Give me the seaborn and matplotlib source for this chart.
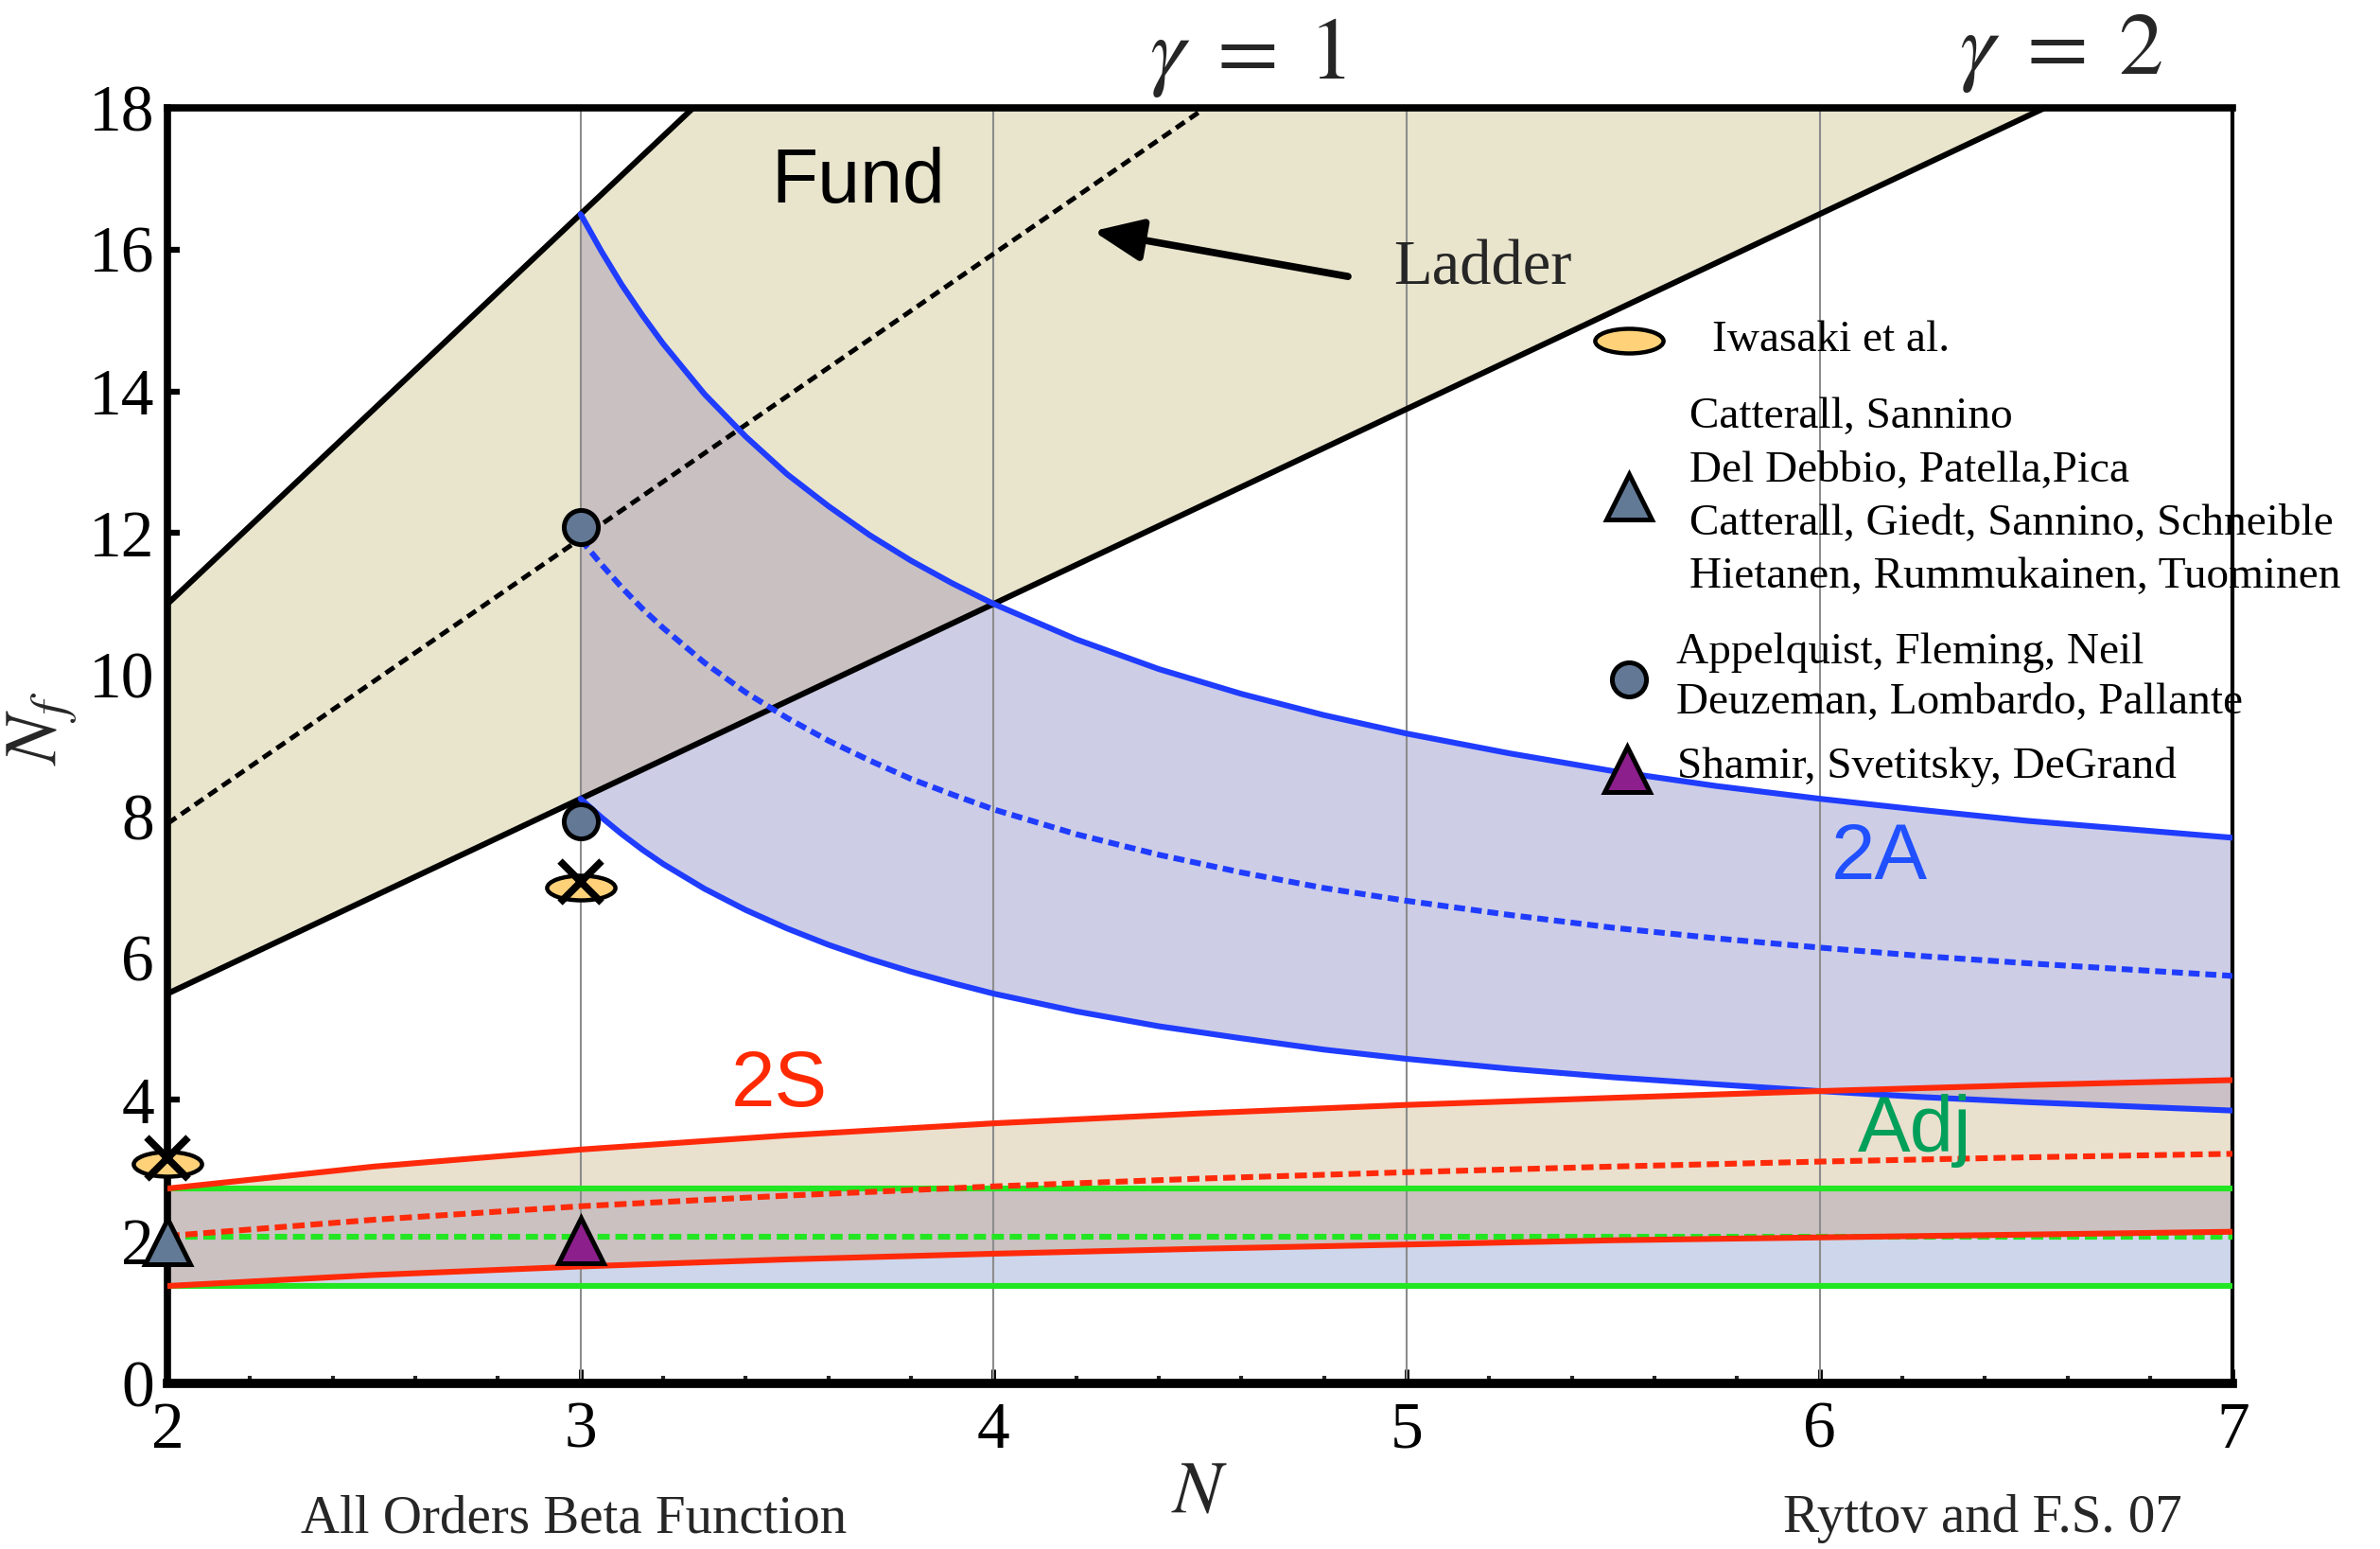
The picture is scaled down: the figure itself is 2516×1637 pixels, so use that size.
import numpy as np
import matplotlib
matplotlib.use("Agg")
import matplotlib.pyplot as plt
from matplotlib.path import Path
from matplotlib.transforms import Affine2D
from matplotlib.ticker import MultipleLocator
import seaborn as sns

# ---------------------------------------------------------------- data
# Fundamental representation: asymptotic freedom, ladder and gamma = 2 bounds
n_fund = [2, 3, 4, 5, 6, 7]
fund_upper = [11.0, 16.5, 22.0, 27.5, 33.0, 38.5]
fund_ladder = [7.9, 11.92, 15.94, 19.96, 23.97, 27.98]
fund_lower = [5.5, 8.25, 11.0, 13.75, 16.5, 19.25]

# Two-index antisymmetric (2A)
n_2a = [3.0, 3.05, 3.1, 3.15, 3.2, 3.3, 3.4, 3.5, 3.6, 3.7, 3.8, 3.9, 4.0,
        4.2, 4.4, 4.6, 4.8, 5.0, 5.25, 5.5, 5.75, 6.0, 6.25, 6.5, 6.75, 7.0]
a2_upper = [16.5, 15.98, 15.5, 15.07, 14.67, 13.96, 13.36, 12.83, 12.38,
            11.97, 11.61, 11.29, 11.0, 10.5, 10.08, 9.73, 9.43, 9.17, 8.89,
            8.64, 8.43, 8.25, 8.09, 7.94, 7.82, 7.7]
a2_ladder = [11.91, 11.56, 11.23, 10.93, 10.66, 10.17, 9.75, 9.39, 9.07,
             8.79, 8.53, 8.31, 8.10, 7.75, 7.46, 7.21, 6.99, 6.81, 6.61,
             6.43, 6.28, 6.15, 6.03, 5.93, 5.84, 5.75]
a2_lower = [8.25, 7.99, 7.75, 7.53, 7.33, 6.98, 6.68, 6.42, 6.19, 5.99,
            5.81, 5.65, 5.5, 5.25, 5.04, 4.87, 4.71, 4.58, 4.44, 4.32,
            4.22, 4.125, 4.04, 3.97, 3.91, 3.85]

# Two-index symmetric (2S)
n_2s = [2.0, 2.5, 3.0, 3.5, 4.0, 4.5, 5.0, 5.5, 6.0, 6.5, 7.0]
s2_upper = [2.75, 3.06, 3.30, 3.50, 3.67, 3.81, 3.93, 4.03, 4.125, 4.21, 4.28]
s2_ladder = [2.08, 2.31, 2.50, 2.65, 2.78, 2.89, 2.98, 3.06, 3.13, 3.19, 3.24]
s2_lower = [1.375, 1.53, 1.65, 1.75, 1.83, 1.90, 1.96, 2.02, 2.06, 2.10, 2.14]

# Adjoint
n_adj = [2.0, 7.0]
adj_upper = [2.75, 2.75]
adj_ladder = [2.075, 2.075]
adj_lower = [1.375, 1.375]

# Lattice results
iwasaki_n = [2, 3]
iwasaki_nf = [3.1, 7.0]
excluded_n = [2, 3]
excluded_nf = [3.18, 7.08]
catterall_n = [2]
catterall_nf = [2.0]
appelquist_n = [3, 3]
appelquist_nf = [12.08, 7.93]
shamir_n = [3]
shamir_nf = [2.02]

legend_lines = [
    (5.74, 14.72, "Iwasaki et al."),
    (5.685, 13.63, "Catterall, Sannino"),
    (5.685, 12.88, "Del Debbio, Patella,Pica"),
    (5.685, 12.13, "Catterall, Giedt, Sannino, Schneible"),
    (5.685, 11.38, "Hietanen, Rummukainen, Tuominen"),
    (5.652, 10.31, "Appelquist, Fleming, Neil"),
    (5.652, 9.60, "Deuzeman, Lombardo, Pallante"),
    (5.655, 8.70, "Shamir, Svetitsky, DeGrand"),
]

# ---------------------------------------------------------------- style
sns.set_theme(style="white")
plt.rcParams["font.family"] = ["Liberation Serif", "DejaVu Serif"]
plt.rcParams["mathtext.fontset"] = "stix"
SANS = ["Liberation Sans Narrow", "Liberation Sans", "DejaVu Sans"]

BLUE = "#1f3cff"
RED = "#ff2a0a"
GREEN = "#22e622"
C_FUND = "#e9e5cd"
C_2A = "#cdcde6"
C_FUND_2A = "#c9c0c2"
C_ADJ = "#cdd6ea"
C_2S = "#eae0ce"
C_2S_ADJ = "#cbc1c1"
C_2S_2A = "#cbc0c6"

fig = plt.figure(figsize=(25.16, 16.37), dpi=100)
ax = fig.add_axes([0.0704, 0.1069, 0.8677, 0.8235])
ax.set_xlim(2, 7)
ax.set_ylim(0, 18)

# ---------------------------------------------------------------- bands
fund_lo_on_2a = np.interp(n_2a, n_fund, fund_lower)
s2_up_on_2a = np.interp(n_2a, n_2s, s2_upper)
adj_up_on_2s = np.interp(n_2s, n_adj, adj_upper)

ax.fill_between(n_fund, fund_lower, fund_upper, color=C_FUND, lw=0, zorder=1)
ax.fill_between(n_2a, a2_lower, a2_upper, color=C_2A, lw=0, zorder=1.05)
ax.fill_between(n_2a, fund_lo_on_2a, a2_upper,
                where=np.array(a2_upper) >= fund_lo_on_2a, interpolate=True,
                color=C_FUND_2A, lw=0, zorder=1.1)
ax.fill_between(n_adj, adj_lower, adj_upper, color=C_ADJ, lw=0, zorder=1)
ax.fill_between(n_2s, s2_lower, s2_upper, color=C_2S, lw=0, zorder=1.05)
ax.fill_between(n_2s, s2_lower, adj_up_on_2s, color=C_2S_ADJ, lw=0, zorder=1.1)
ax.fill_between(n_2a, a2_lower, s2_up_on_2a,
                where=s2_up_on_2a >= np.array(a2_lower), interpolate=True,
                color=C_2S_2A, lw=0, zorder=1.1)

for xv in [3, 4, 5, 6]:
    ax.axvline(xv, color="#8c8c8c", lw=1.5, zorder=1.5)

# ---------------------------------------------------------------- curves
LW = 4.4
solid = dict(lw=LW, zorder=3)
sns.lineplot(x=n_fund, y=fund_upper, color="black", ax=ax, **solid)
sns.lineplot(x=n_fund, y=fund_lower, color="black", ax=ax, **solid)
sns.lineplot(x=n_fund, y=fund_ladder, color="black", ax=ax, lw=3.6,
             linestyle=(0, (2.2, 1.3)), zorder=3)

sns.lineplot(x=n_2a, y=a2_upper, color=BLUE, ax=ax, **solid)
sns.lineplot(x=n_2a, y=a2_lower, color=BLUE, ax=ax, **solid)
sns.lineplot(x=n_2a, y=a2_ladder, color=BLUE, ax=ax, lw=LW,
             linestyle=(0, (1.9, 1.0)), zorder=3)

sns.lineplot(x=n_adj, y=adj_upper, color=GREEN, ax=ax, **solid)
sns.lineplot(x=n_adj, y=adj_lower, color=GREEN, ax=ax, **solid)
sns.lineplot(x=n_adj, y=adj_ladder, color=GREEN, ax=ax, lw=LW,
             linestyle=(0, (2.1, 1.0)), zorder=3)

sns.lineplot(x=n_2s, y=s2_upper, color=RED, ax=ax, **solid)
sns.lineplot(x=n_2s, y=s2_lower, color=RED, ax=ax, **solid)
sns.lineplot(x=n_2s, y=s2_ladder, color=RED, ax=ax, lw=LW,
             linestyle=(0, (2.1, 1.0)), zorder=3)

# ---------------------------------------------------------------- markers
ellipse = Path.unit_circle().transformed(Affine2D().scale(1.0, 0.36))
mk_ellipse = dict(marker=ellipse, ms=52, mfc="#ffd27a", mec="black", mew=3.2,
                  ls="none", clip_on=False, zorder=6)
mk_x = dict(marker="x", ms=32, mec="black", mew=5.5, ls="none",
            clip_on=False, zorder=7)
mk_tri = dict(marker="^", ms=34, mfc="#627a96", mec="black", mew=3.6,
              ls="none", clip_on=False, zorder=6)
mk_circ = dict(marker="o", ms=26, mfc="#627894", mec="black", mew=3.6,
               ls="none", clip_on=False, zorder=6)
mk_purple = dict(marker="^", ms=34, mfc="#8c1f8c", mec="black", mew=3.6,
                 ls="none", clip_on=False, zorder=6)

ax.plot(iwasaki_n, iwasaki_nf, **mk_ellipse)
ax.plot(excluded_n, excluded_nf, **mk_x)
ax.plot(catterall_n, catterall_nf, **mk_tri)
ax.plot(appelquist_n, appelquist_nf, **mk_circ)
ax.plot(shamir_n, shamir_nf, **mk_purple)

# legend symbols
ax.plot([5.538], [14.72], **mk_ellipse)
ax.plot([5.538], [12.51], **mk_tri)
ax.plot([5.538], [9.94], **mk_circ)
ax.plot([5.533], [8.66], **mk_purple)

for lx, ly, txt in legend_lines:
    ax.text(lx, ly, txt, fontsize=34, ha="left", va="center",
            color="black", zorder=2, clip_on=False)

# ---------------------------------------------------------------- labels
ax.text(3.672, 16.95, "Fund", family=SANS, fontsize=58, color="black",
        ha="center", va="center", zorder=4)
ax.text(6.144, 7.41, "2A", family=SANS, fontsize=60, color="#2050ff",
        ha="center", va="center", zorder=4)
ax.text(3.48, 4.2, "2S", family=SANS, fontsize=60, color="#ff2a00",
        ha="center", va="center", zorder=4)
ax.text(6.23, 3.56, "Adj", family=SANS, fontsize=60, color="#00a05a",
        ha="center", va="center", zorder=4)

ax.annotate("", xy=(4.241, 16.26), xytext=(4.858, 15.62),
            arrowprops=dict(arrowstyle="-|>,head_length=0.7,head_width=0.3",
                            lw=5.5, color="black", mutation_scale=45,
                            shrinkA=0, shrinkB=0),
            zorder=4)
ax.text(4.968, 15.73, "Ladder", fontsize=48, ha="left", va="center", zorder=4)

ax.text(4.616, 18.71, r"$\gamma\;=\;1$", fontsize=68, ha="center",
        va="center", clip_on=False)
ax.text(6.585, 18.77, r"$\gamma\;=\;2$", fontsize=68, ha="center",
        va="center", clip_on=False)

fig.text(0.504, 0.035, r"$N$", fontsize=56, ha="center", va="center")
fig.text(0.018, 0.530, r"$N_f$", fontsize=56, ha="center", va="center",
         rotation=90)
fig.text(0.241, 0.0195, "All Orders Beta Function", fontsize=41,
         ha="center", va="center")
fig.text(0.833, 0.0195, "Ryttov and F.S. 07", fontsize=41,
         ha="center", va="center")

# ---------------------------------------------------------------- axes frame
ax.set_xlabel("")
ax.set_ylabel("")
ax.set_xticks([2, 3, 4, 5, 6, 7])
ax.xaxis.set_minor_locator(MultipleLocator(0.2))
ax.set_yticks(np.arange(0, 19, 2))
ax.tick_params(axis="x", which="major", bottom=True, top=False, direction="in",
               length=11, width=3.5, labelsize=50, pad=14, colors="black")
ax.tick_params(axis="x", which="minor", bottom=True, top=False, direction="in",
               length=6, width=3.0)
ax.tick_params(axis="y", which="major", left=True, right=False, direction="in",
               length=9, width=4.5, labelsize=50, pad=10, colors="black")
ax.grid(False)

for side, w in [("left", 5.5), ("bottom", 7.0), ("top", 5.5), ("right", 3.0)]:
    ax.spines[side].set_visible(True)
    ax.spines[side].set_color("black")
    ax.spines[side].set_linewidth(w)

fig.savefig("out.png", dpi=100, facecolor="white")
